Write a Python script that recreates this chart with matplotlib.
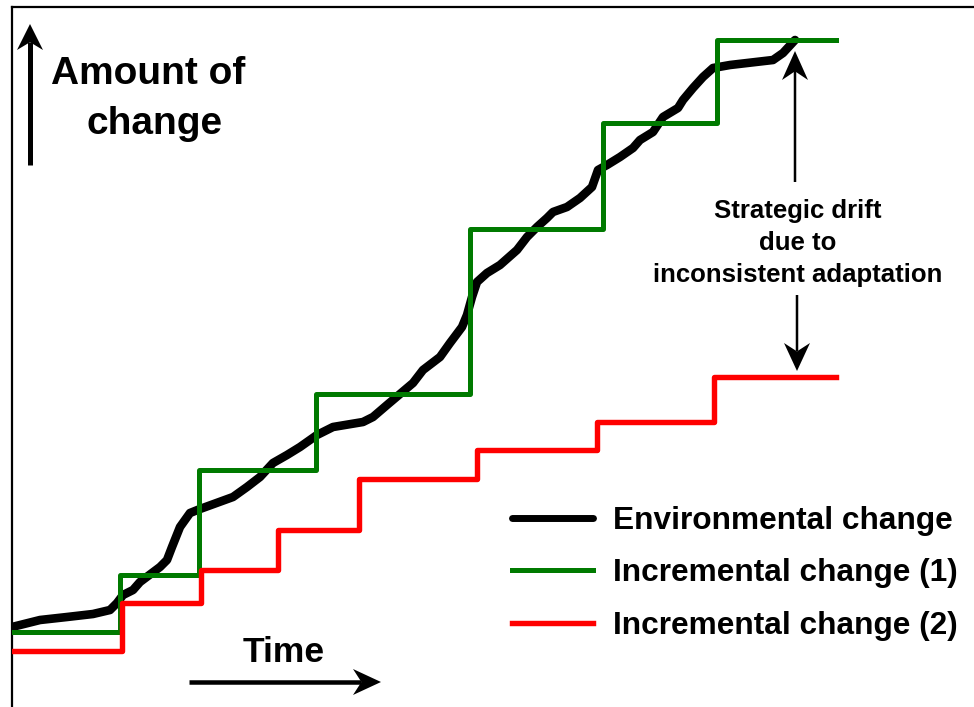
import matplotlib
matplotlib.use("Agg")
import matplotlib.pyplot as plt
from matplotlib.patches import Polygon
import numpy as np

plt.rcParams['font.family'] = ['Liberation Sans', 'DejaVu Sans']

# ---- data (time units, amount-of-change units) ----
time_env = [12, 40, 67, 93, 110, 117, 123, 133, 140, 160, 167, 172, 180, 190, 200,
            233, 247, 260, 273, 287, 300, 317, 333, 363, 373, 387, 400, 413, 423,
            440, 450, 462, 467, 472, 477, 487, 500, 517, 527, 537, 547, 553, 567,
            580, 592, 598, 607, 620, 633, 640, 653, 663, 678, 683, 693, 703, 713,
            730, 773, 783, 795]
env_change = [80, 87, 90, 93, 97, 104, 112, 117, 125, 140, 147, 160, 180, 194, 198,
              210, 220, 230, 244, 252, 260, 272, 280, 285, 290, 302, 313, 324, 337,
              350, 364, 380, 392, 410, 425, 434, 442, 457, 470, 480, 489, 495, 500,
              509, 520, 537, 542, 550, 559, 567, 575, 590, 599, 607, 619, 630, 639,
              642, 647, 654, 667]

step_times_1 = [12, 120, 199, 316, 470, 603, 717, 836]
incr_change_1 = [75, 132, 237, 313, 478, 584, 667]

step_times_2 = [12, 122, 201, 278, 359, 477, 597, 714, 836]
incr_change_2 = [56, 104, 137, 177, 228, 257, 285, 330]

labels = ["Environmental change", "Incremental change (1)", "Incremental change (2)"]

W, H = 974, 707
fig = plt.figure(figsize=(W / 100, H / 100), dpi=100)
ax = fig.add_axes([12 / W, 0, 1 - 12 / W, 1 - 7 / H])
ax.set_xlim(12, W)
ax.set_ylim(0, H - 7)
ax.set_xticks([])
ax.set_yticks([])
for s in ['right', 'bottom']:
    ax.spines[s].set_visible(False)
for s in ['left', 'top']:
    ax.spines[s].set_linewidth(1.6)

l_env, = ax.plot(time_env, env_change, color='black', lw=6.2,
                 solid_capstyle='round', solid_joinstyle='round', zorder=2)
l1, = ax.step(step_times_1, incr_change_1 + [incr_change_1[-1]], where='post',
              color='#007a00', lw=3.6, zorder=3)
l2, = ax.step(step_times_2, incr_change_2 + [incr_change_2[-1]], where='post',
              color='#ff0000', lw=3.9, zorder=4)


def arrow(tail, tip, shaft, hlen, hwid, notch=0.3):
    # tail/tip given in pixel coords from top-left
    tx, ty = tail[0], H - tail[1]
    px, py = tip[0], H - tip[1]
    d = np.array([px - tx, py - ty], float)
    L = np.hypot(*d)
    u = d / L
    n = np.array([-u[1], u[0]])
    tipv = np.array([px, py])
    base = tipv - u * hlen
    notchp = tipv - u * hlen * (1 - notch)
    ax.plot([tx, notchp[0]], [ty, notchp[1]], color='black', lw=shaft * 0.72,
            solid_capstyle='butt', zorder=5)
    pts = [tipv, base + n * hwid / 2, notchp, base - n * hwid / 2]
    ax.add_patch(Polygon(pts, closed=True, color='black', lw=0, zorder=6))


arrow((30, 165), (30, 24), 5, 26, 26)
arrow((189, 682), (381, 682), 4.5, 28, 26)
arrow((795, 182), (795, 51), 2.5, 29, 26)
arrow((797, 295), (797, 371), 2.5, 28, 26)

fw = 'bold'
ax.text(148, H - 84, "Amount of", ha='center', va='baseline', fontsize=28, fontweight=fw)
ax.text(155, H - 134, "change", ha='center', va='baseline', fontsize=28, fontweight=fw)
ax.text(284, H - 662, "Time", ha='center', va='baseline', fontsize=25.5, fontweight=fw)

for txt, yb in [("Strategic drift", 218), ("due to", 250), ("inconsistent adaptation", 282)]:
    ax.text(798, H - yb, txt, ha='center', va='baseline', fontsize=18.5, fontweight=fw)

leg = ax.legend([l_env, l1, l2], labels, loc='upper left',
                bbox_to_anchor=((512 - 12) / (W - 12), 1 - (506 - 7) / (H - 7)),
                frameon=False, borderpad=0, borderaxespad=0,
                handlelength=2.56, handletextpad=0.62, labelspacing=0.71,
                prop={'size': 22.8, 'weight': 'bold'})
leg.get_lines()[0].set_linewidth(5.0)

fig.savefig("out.png", dpi=100)
